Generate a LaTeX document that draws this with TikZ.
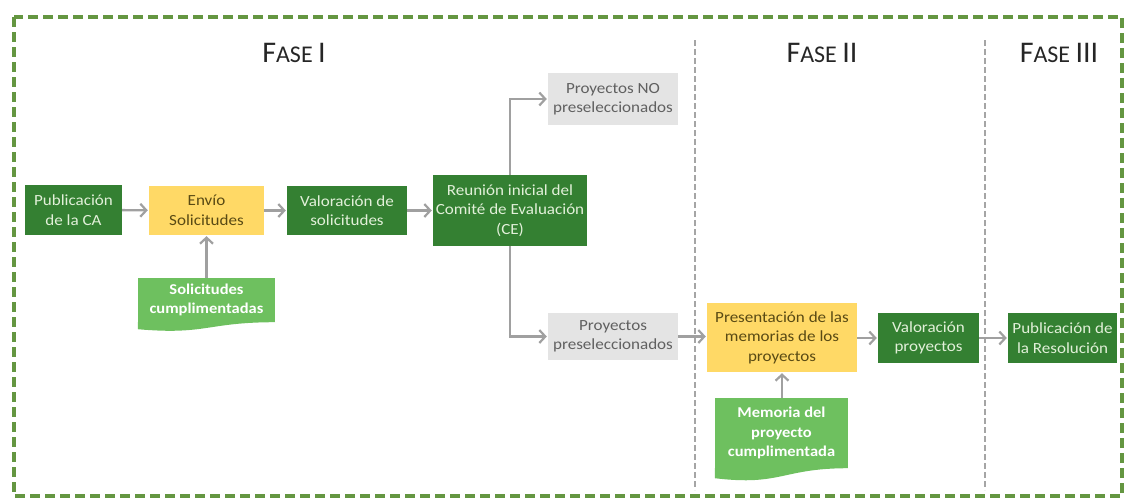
\documentclass[tikz,border=0pt]{standalone}
\usepackage{fontspec}
\setmainfont{Carlito}
\newfontfamily\nodefont{Carlito}[FakeStretch=1.1]
\usetikzlibrary{arrows.meta,calc}
\definecolor{dkgreen}{RGB}{52,128,50}
\definecolor{dktext}{RGB}{226,240,217}
\definecolor{ybox}{RGB}{255,217,102}
\definecolor{ytext}{RGB}{89,74,20}
\definecolor{gbox}{RGB}{228,228,228}
\definecolor{gtext}{RGB}{96,96,96}
\definecolor{docgreen}{RGB}{110,192,95}
\definecolor{arrowgray}{RGB}{160,160,160}
\definecolor{divgray}{RGB}{165,165,165}
\definecolor{bordergreen}{RGB}{100,150,65}
\definecolor{titlegray}{RGB}{38,38,38}
\begin{document}
\begin{tikzpicture}[x=1pt,y=-1pt,
  basebox/.style={rectangle,inner sep=0pt,align=center,
    font=\nodefont\fontsize{15.5}{19.5}\selectfont},
  darkbox/.style={basebox,fill=dkgreen,text=dktext},
  yellowbox/.style={basebox,fill=ybox,text=ytext},
  graybox/.style={basebox,fill=gbox,text=gtext},
  docbox/.style={basebox,fill=docgreen,text=white,
    font=\nodefont\bfseries\fontsize{15}{19.5}\selectfont},
  flow/.style={draw=arrowgray,line width=2.4pt,
    -{Straight Barb[length=6pt,width=13pt,line width=2.2pt]},shorten >=1pt},
  phase/.style={text=titlegray,inner sep=0pt},
  divider/.style={draw=divgray,line width=1.5pt,dash pattern=on 6pt off 3pt}
]
\useasboundingbox (0,0) rectangle (1131,499);

% outer border
\draw[bordergreen,line width=3.5pt,dash pattern=on 10pt off 5pt] (14,17) rectangle (1122,496);

% dividers
\draw[divider] (695,40) -- (695,490);
\draw[divider] (985,40) -- (985,490);

% phase titles
\node[phase] (f1) at (294,53) {\fontsize{30}{30}\selectfont F\fontsize{24}{24}\selectfont ASE \fontsize{30}{30}\selectfont I};
\node[phase] (f2) at (822,53) {\fontsize{30}{30}\selectfont F\fontsize{24}{24}\selectfont ASE \fontsize{30}{30}\selectfont II};
\node[phase] (f3) at (1059,53) {\fontsize{30}{30}\selectfont F\fontsize{24}{24}\selectfont ASE \fontsize{30}{30}\selectfont III};

% nodes
\node[darkbox,minimum width=97pt,minimum height=50pt] (pub) at (73.5,210) {Publicación\\de la CA};
\node[yellowbox,minimum width=115pt,minimum height=49pt] (env) at (206.5,210.5) {Envío\\Solicitudes};
\node[darkbox,minimum width=120pt,minimum height=49pt] (vsol) at (347,210.5) {Valoración de\\solicitudes};
\node[darkbox,minimum width=154pt,minimum height=71pt] (reu) at (510,210.5) {Reunión inicial del\\Comité de Evaluación\\(CE)};
\node[graybox,minimum width=130pt,minimum height=52pt] (nop) at (613,99) {Proyectos NO\\preseleccionados};
\node[graybox,minimum width=130pt,minimum height=47pt] (pre) at (613,336.5) {Proyectos\\preseleccionados};
\node[yellowbox,minimum width=150pt,minimum height=69pt] (mem) at (782,337.5) {Presentación de las\\memorias de los\\proyectos};
\node[darkbox,minimum width=101pt,minimum height=50pt] (vpro) at (928.5,338) {Valoración\\proyectos};
\node[darkbox,minimum width=109pt,minimum height=50pt] (res) at (1062.5,338) {Publicación de\\la Resolución};

% document shapes
\node[docbox,minimum width=137pt,minimum height=44pt] (sc) at (206.5,300) {Solicitudes\\cumplimentadas};
\fill[docgreen] (sc.south east) .. controls ($(sc.south)+(0,0)$) and ($(sc.south)+(0,13)$) .. ($(sc.south west)+(0,7)$) -- (sc.south west) -- cycle;
\node[docbox,minimum width=133pt,minimum height=70pt] (mc) at (781.5,433) {Memoria del\\proyecto\\cumplimentada};
\fill[docgreen] (mc.south east) .. controls ($(mc.south)+(0,0)$) and ($(mc.south)+(0,18)$) .. ($(mc.south west)+(0,10)$) -- (mc.south west) -- cycle;

% connectors
\draw[flow] (pub) -- (env);
\draw[flow] (env) -- (vsol);
\draw[flow] (vsol) -- (reu);
\draw[flow] (reu.north) |- (nop.west);
\draw[flow] (reu.south) |- (pre.west);
\draw[flow] (pre.east) -- (pre.east -| mem.west);
\draw[flow] (mem.east |- vpro.west) -- (vpro.west);
\draw[flow] (vpro) -- (res);
\draw[flow] (sc.north) -- (env.south);
\draw[flow] (mc.north -| mem.south) -- (mem.south);
\end{tikzpicture}
\end{document}
